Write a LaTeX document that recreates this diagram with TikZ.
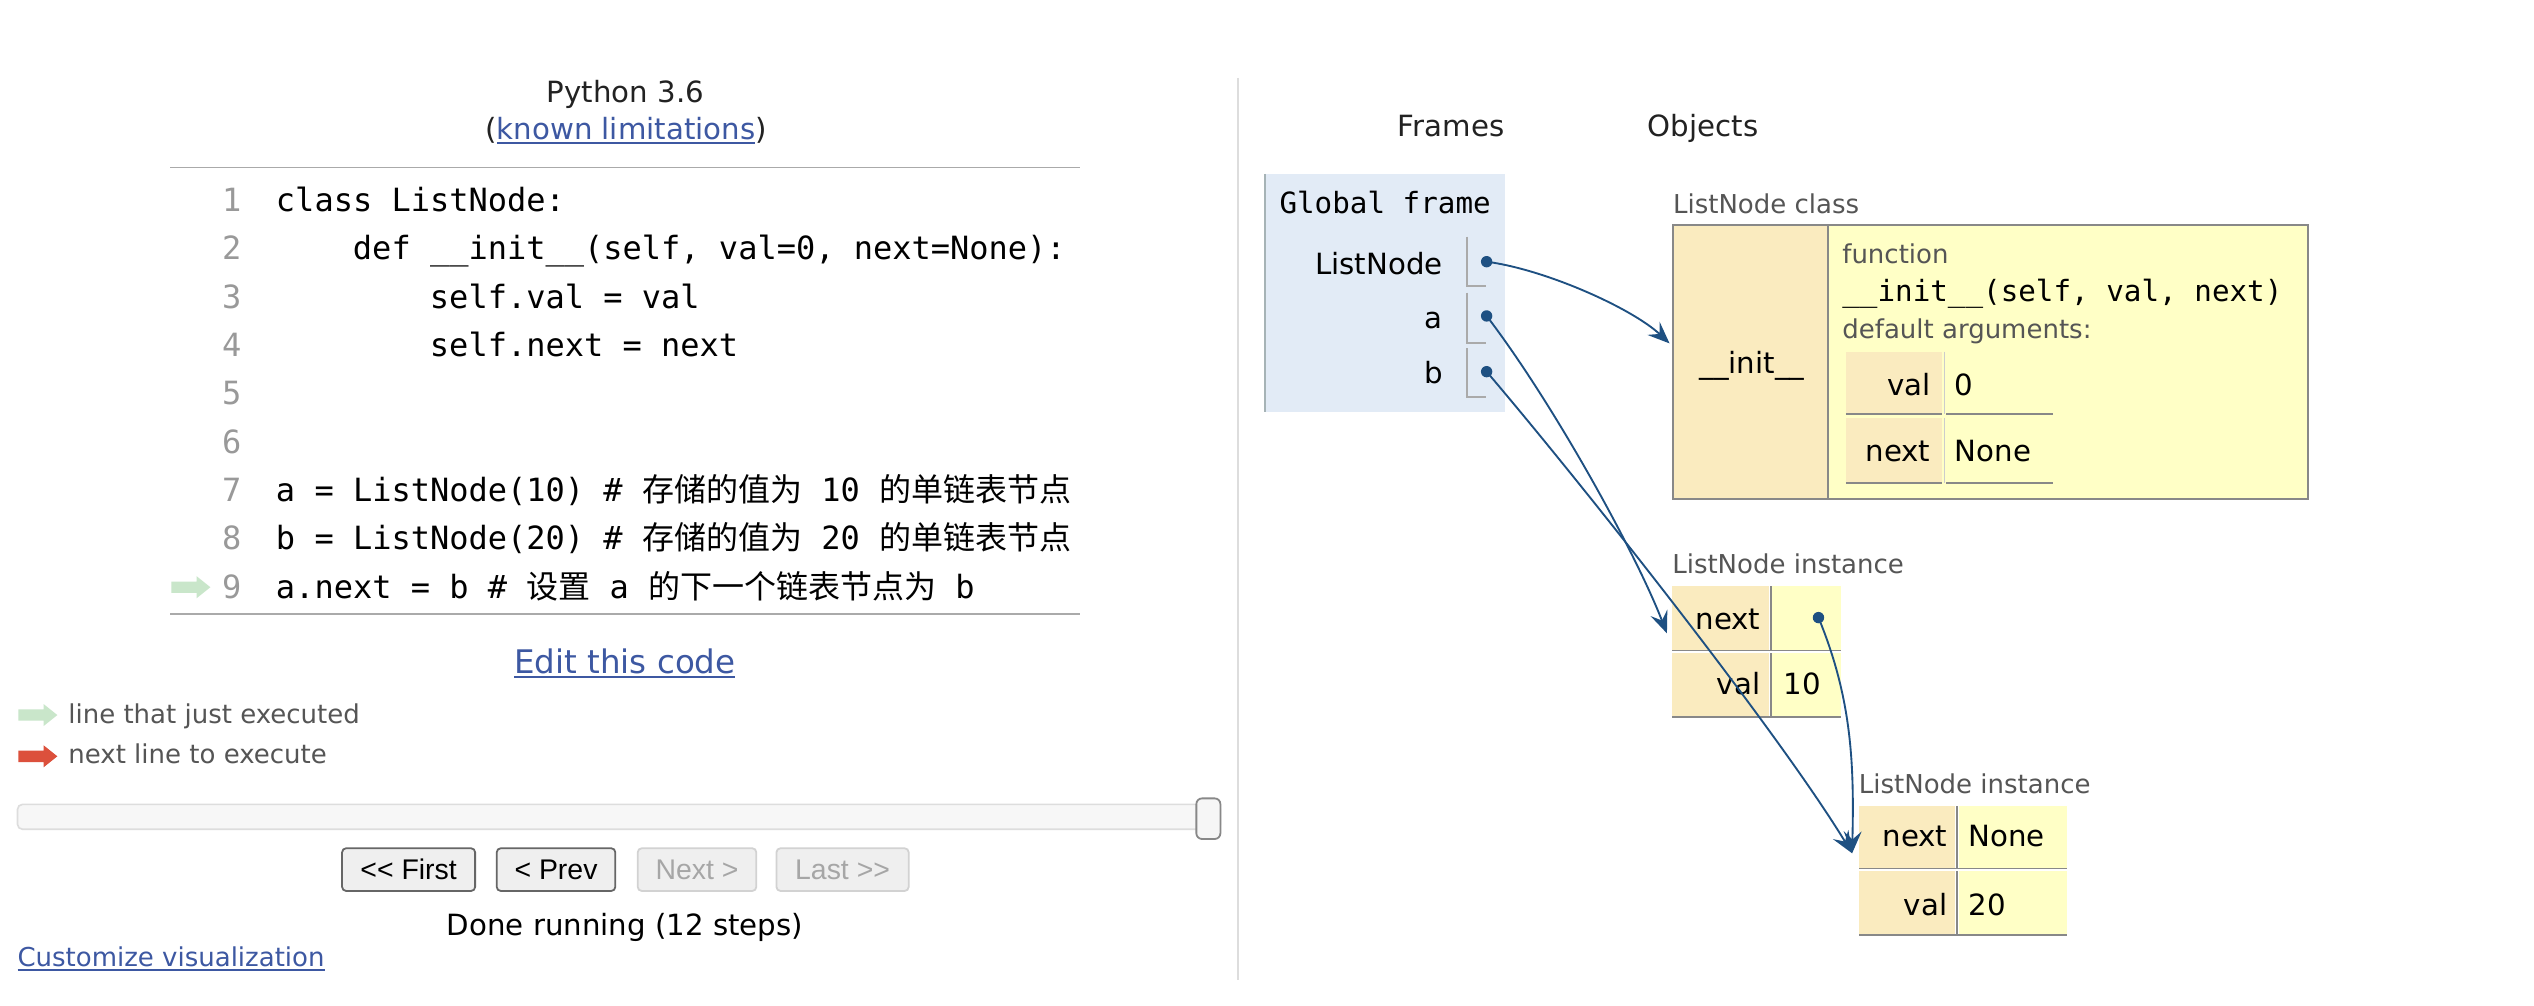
\documentclass[tikz,border=0pt]{standalone}
\usepackage{fontspec}
\setmainfont{DejaVu Sans}
\setmonofont{DejaVu Sans Mono}
\newfontfamily\cjkfont{Noto Sans CJK SC}
\newfontfamily\btnfont{Liberation Sans}
\usetikzlibrary{arrows.meta}
\definecolor{linkblue}{HTML}{3D58A2}
\definecolor{txtdark}{HTML}{222222}
\definecolor{lblgray}{HTML}{555555}
\definecolor{lnogray}{HTML}{999999}
\definecolor{rulegray}{HTML}{AAAAAA}
\definecolor{divgray}{HTML}{DDDDDD}
\definecolor{framebg}{HTML}{E2EBF6}
\definecolor{frameedge}{HTML}{A6B3B6}
\definecolor{keyfill}{HTML}{FAEBBF}
\definecolor{valfill}{HTML}{FFFFC6}
\definecolor{boxedge}{HTML}{888888}
\definecolor{arrowblue}{HTML}{1E5082}
\definecolor{greenarrow}{HTML}{C9E6CA}
\definecolor{redarrow}{HTML}{DC503C}
\definecolor{btnborder}{HTML}{666666}
\definecolor{btnfill}{HTML}{EFEFEF}
\newcommand\setfs[1]{\fontsize{#1}{#1}\selectfont}
\newcommand\execarrow[3]{%
  \fill[#3] (#1,#2-3.5) -- (#1+15.5,#2-3.5) -- (#1+15.5,#2-6.8) -- (#1+24,#2)
    -- (#1+15.5,#2+6.8) -- (#1+15.5,#2+3.5) -- (#1,#2+3.5) -- cycle;}
\newcommand\ulnode[1]{\draw[linkblue, line width=1.2pt]
  ([yshift=-2.2pt]#1.base west) -- ([yshift=-2.2pt]#1.base east);}
\begin{document}
\begin{tikzpicture}[x=1pt,y=-1pt,
  every node/.style={inner sep=0pt, outer sep=0pt},
  hdr/.style={anchor=base, font=\setfs{18}, text=txtdark},
  lbl/.style={anchor=base west, font=\setfs{16}, text=lblgray},
  codetxt/.style={anchor=base west, font=\setfs{19.7}\ttfamily},
  lno/.style={anchor=base east, font=\setfs{19.7}\ttfamily, text=lnogray},
  varname/.style={anchor=base east, font=\setfs{18}},
  cellkey/.style={anchor=base east, font=\setfs{18}},
  cellval/.style={anchor=base west, font=\setfs{18}},
  btn/.style={draw=btnborder, fill=btnfill, rounded corners=2.5pt, line width=1.1pt,
    font=\btnfont\setfs{17.5}, minimum height=26.3pt},
  btnoff/.style={btn, draw=lightgray!70, text=gray!70},
  dot/.style={circle, fill=arrowblue, minimum size=7pt, inner sep=0pt},
  conn/.style={draw=arrowblue, line width=1.15pt, -{Stealth[length=13.5pt,width=11pt,inset=5pt]}},
  thinrule/.style={draw=rulegray, line width=1.1pt},
  cellrule/.style={draw=boxedge, line width=1.3pt}]
\useasboundingbox (0,0) rectangle (1560,619.3);
\fill[white] (0,0) rectangle (1560,619.3);

% ---------------- left panel ----------------
\node[hdr] (py) at (385.1,62.8) {Python 3.6};
\node[anchor=base, font=\setfs{18}, text=linkblue] (kl) at (385.4,85.7) {known limitations};
\node[anchor=base east, font=\setfs{18}, text=txtdark] (klo) at (kl.base west) {(};
\node[anchor=base west, font=\setfs{18}, text=txtdark] (klc) at (kl.base east) {)};
\ulnode{kl}

\draw[thinrule] (104.7,103.1) -- (664.9,103.1);
\draw[thinrule] (104.7,378) -- (664.9,378);

\foreach \n [count=\i from 0] in {1,...,9}{
  \node[lno] (ln\n) at (148.6,130.3+29.75*\i) {\n};
}
\node[codetxt] (c1) at (169.9,130.3) {class ListNode:};
\node[codetxt] (c2) at (217.3,160.05) {def \_\_init\_\_(self, val=0, next=None):};
\node[codetxt] (c3) at (264.7,189.8) {self.val = val};
\node[codetxt] (c4) at (264.7,219.55) {self.next = next};
\node[codetxt] (c7) at (169.9,308.8) {a = ListNode(10) \# {\cjkfont 存储的值为} 10 {\cjkfont 的单链表节点}};
\node[codetxt] (c8) at (169.9,338.55) {b = ListNode(20) \# {\cjkfont 存储的值为} 20 {\cjkfont 的单链表节点}};
\node[codetxt] (c9) at (169.9,368.3) {a.next = b \# {\cjkfont 设置} a {\cjkfont 的下一个链表节点为} b};
\execarrow{105.5}{361.5}{greenarrow}

\node[anchor=base, font=\setfs{20}, text=linkblue] (edit) at (384.7,414.5) {Edit this code};
\ulnode{edit}

\execarrow{11.3}{440.2}{greenarrow}
\node[lbl] (lg1) at (42.1,445.3) {line that just executed};
\execarrow{11.3}{465.6}{redarrow}
\node[lbl] (lg2) at (42.1,469.9) {next line to execute};

% slider
\draw[draw=divgray, fill=gray!6, line width=1pt, rounded corners=3pt] (10.8,495.2) rectangle (751.3,510.5);
\draw[draw=boxedge, fill=gray!7, line width=1.1pt, rounded corners=3.5pt] (736.5,491.5) rectangle (751.3,516.5);

% buttons
\node[btn, minimum width=81.9pt] (bfirst) at (251.55,535.35) {<\kern0pt< First};
\node[btn, minimum width=73pt] (bprev) at (342.3,535.35) {< Prev};
\node[btnoff, minimum width=73pt] (bnext) at (429.1,535.35) {Next >};
\node[btnoff, minimum width=81.4pt] (blast) at (518.7,535.35) {Last >\kern0pt>};

\node[anchor=base, font=\setfs{18}] (done) at (384.8,575.6) {Done running (12 steps)};
\node[anchor=base west, font=\setfs{16}, text=linkblue] (cust) at (10.8,595.1) {Customize visualization};
\ulnode{cust}

% divider
\draw[divgray, line width=1.1pt] (762.1,48) -- (762.1,603.3);

% ---------------- right panel ----------------
\node[hdr] (frames) at (893.3,84.1) {Frames};
\node[hdr] (objects) at (1048.4,84.1) {Objects};

% global frame
\fill[framebg] (778.1,107.1) rectangle (926.5,253.4);
\draw[frameedge, line width=1.4pt] (778.8,107.1) -- (778.8,253.4);
\node[anchor=base west, font=\setfs{18}\ttfamily] (gf) at (787.7,131.3) {Global frame};
\node[varname] (vLN) at (888.1,168.9) {ListNode};
\node[varname] (vA) at (888.1,202.1) {a};
\node[varname] (vB) at (888.1,236) {b};
\draw[rulegray, line width=1.1pt] (902.9,145.7) -- (902.9,176.1) -- (914.6,176.1);
\draw[rulegray, line width=1.1pt] (902.9,180.2) -- (902.9,211) -- (914.6,211);
\draw[rulegray, line width=1.1pt] (902.9,214.4) -- (902.9,244.6) -- (914.6,244.6);
\node[dot] (dLN) at (915.2,161.1) {};
\node[dot] (dA) at (915.2,194.5) {};
\node[dot] (dB) at (915.2,228.8) {};

% ListNode class
\node[lbl] (clslbl) at (1030,131.3) {ListNode class};
\fill[keyfill] (1030,138.5) rectangle (1125.5,307.2);
\fill[valfill] (1125.5,138.5) rectangle (1420.7,307.2);
\draw[boxedge, line width=1.3pt] (1030,138.5) rectangle (1420.7,307.2);
\draw[boxedge, line width=1.1pt] (1125.5,138.5) -- (1125.5,307.2);
\node[anchor=base, font=\setfs{18}] (initk) at (1078.5,229.8) {\_\_init\_\_};
\node[lbl] (fnlbl) at (1134.2,162.1) {function};
\node[anchor=base west, font=\setfs{18}\ttfamily] (fnsig) at (1134.2,185.7) {\_\_init\_\_(self, val, next)};
\node[lbl] (deflbl) at (1134.2,208.3) {default arguments:};
\fill[keyfill] (1136.4,216.5) rectangle (1195.8,255);
\fill[keyfill] (1136.4,257.1) rectangle (1195.8,297.5);
\draw[cellrule] (1136.4,255) -- (1195.8,255);
\draw[cellrule] (1198,255) -- (1263.6,255);
\draw[cellrule] (1136.4,297.5) -- (1195.8,297.5);
\draw[cellrule] (1198,297.5) -- (1263.6,297.5);
\draw[gray!40, line width=0.8pt] (1197,216.5) -- (1197,255);
\draw[gray!40, line width=0.8pt] (1197,257.1) -- (1197,297.5);
\node[cellkey] (dvk) at (1188.4,243.2) {val};
\node[cellval] (dvv) at (1203.5,243.2) {0};
\node[cellkey] (dnk) at (1188.4,284.2) {next};
\node[cellval] (dnv) at (1203.5,284.2) {None};

% instance a
\node[lbl] (i1lbl) at (1029.5,353) {ListNode instance};
\fill[keyfill] (1029.5,360.8) rectangle (1089.2,441.2);
\fill[valfill] (1090.9,360.8) rectangle (1133.2,441.2);
\draw[cellrule] (1029.5,400.8) -- (1133.2,400.8);
\draw[cellrule] (1029.5,441.2) -- (1133.2,441.2);
\draw[cellrule] (1090,360.8) -- (1090,441.2);
\draw[white, line width=1.2pt] (1029.5,401.6) -- (1133.2,401.6);
\node[cellkey] (i1nk) at (1083.7,387.4) {next};
\node[cellkey] (i1vk) at (1083.7,427.8) {val};
\node[cellval] (i1vv) at (1097.9,427.8) {10};
\node[dot] (dN) at (1119.5,380.2) {};

% instance b
\node[lbl] (i2lbl) at (1144.4,488.4) {ListNode instance};
\fill[keyfill] (1144.6,496.2) rectangle (1203.8,575.6);
\fill[valfill] (1205.7,496.2) rectangle (1272.2,575.6);
\draw[cellrule] (1144.6,535) -- (1272.2,535);
\draw[cellrule] (1144.6,575.6) -- (1272.2,575.6);
\draw[cellrule] (1204.7,496.2) -- (1204.7,575.6);
\draw[white, line width=1.2pt] (1144.6,535.8) -- (1272.2,535.8);
\node[cellkey] (i2nk) at (1198.8,521.2) {next};
\node[cellval] (i2nv) at (1211.8,521.2) {None};
\node[cellkey] (i2vk) at (1198.8,563.3) {val};
\node[cellval] (i2vv) at (1211.8,563.3) {20};

% connectors
\coordinate (tCls) at (1027.8,211.4);
\coordinate (tA) at (1026.2,389.9);
\coordinate (tB) at (1140.2,525.3);
\draw[conn] (dLN.center) .. controls (952,166) and (1005,190) .. (tCls);
\draw[conn] (dA.center) .. controls (955,246.5) and (1006,338) .. (tA);
\draw[conn] (dB.center) .. controls (975,299) and (1095,451) .. (tB);
\draw[conn] (dN.center) .. controls (1140,430) and (1141.5,470) .. (tB);
\end{tikzpicture}
\end{document}
